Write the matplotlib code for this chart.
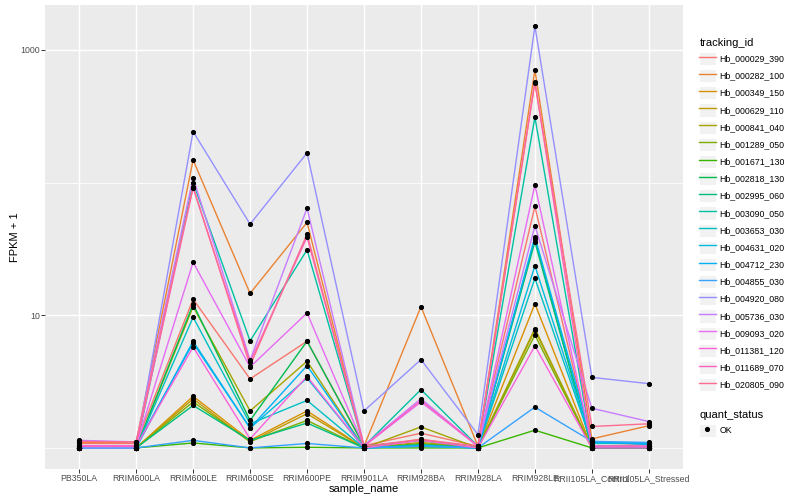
import matplotlib
matplotlib.use("Agg")
import matplotlib.pyplot as plt
import numpy as np
from matplotlib.lines import Line2D
from matplotlib.patches import Rectangle
from matplotlib.legend_handler import HandlerTuple
from matplotlib.ticker import NullFormatter

plt.rcParams['font.family'] = ['Liberation Sans', 'DejaVu Sans']

samples = ['PB350LA', 'RRIM600LA', 'RRIM600LE', 'RRIM600SE', 'RRIM600PE',
           'RRIM901LA', 'RRIM928BA', 'RRIM928LA', 'RRIM928LE',
           'RRII105LA_Control', 'RRII105LA_Stressed']

tracking_ids = ['Hb_000029_390', 'Hb_000282_100', 'Hb_000349_150', 'Hb_000629_110',
                'Hb_000841_040', 'Hb_001289_050', 'Hb_001671_130', 'Hb_002818_130',
                'Hb_002995_060', 'Hb_003090_050', 'Hb_003653_030', 'Hb_004631_020',
                'Hb_004712_230', 'Hb_004855_030', 'Hb_004920_080', 'Hb_005736_030',
                'Hb_009093_020', 'Hb_011381_120', 'Hb_011689_070', 'Hb_020805_090']

# ggplot hue palette, 20 levels
colors = ['#F8766D', '#EA8331', '#D89000', '#C09B00', '#A3A500', '#7CAE00',
          '#39B600', '#00BB4E', '#00BF7D', '#00C1A3', '#00BFC4', '#00BAE0',
          '#00B0F6', '#35A2FF', '#9590FF', '#C77CFF', '#E76BF3', '#FA62DB',
          '#FF62BC', '#FF6C91']

# FPKM + 1, one value per sample
hb_000029_390 = [1.08, 1.08, 13.2, 3.31, 6.37, 1.04, 1.29, 1.03, 66, 1.03, 1.06]
hb_000282_100 = [1.10, 1.10, 148, 14.6, 50, 1.03, 11.6, 1.03, 706, 1.17, 1.47]
hb_000349_150 = [1.0, 1.0, 2.45, 1.14, 1.90, 1.0, 1.16, 1.0, 12.2, 1.0, 1.0]
hb_000629_110 = [1.0, 1.0, 2.34, 1.11, 1.81, 1.0, 1.10, 1.0, 7.71, 1.0, 1.0]
hb_000841_040 = [1.0, 1.0, 11.6, 1.90, 4.50, 1.0, 1.44, 1.0, 7.94, 1.0, 1.0]
hb_001289_050 = [1.0, 1.0, 2.22, 1.12, 1.61, 1.0, 1.08, 1.0, 7.10, 1.0, 1.0]
hb_001671_130 = [1.0, 1.0, 1.09, 1.0, 1.01, 1.0, 1.0, 1.0, 1.36, 1.0, 1.0]
hb_002818_130 = [1.0, 1.0, 12.1, 1.61, 6.37, 1.03, 1.14, 1.0, 37.5, 1.0, 1.0]
hb_002995_060 = [1.0, 1.0, 2.09, 1.14, 1.54, 1.0, 1.06, 1.0, 35.7, 1.0, 1.0]
hb_003090_050 = [1.0, 1.0, 100, 6.40, 31.1, 1.03, 2.75, 1.03, 311, 1.03, 1.03]
hb_003653_030 = [1.0, 1.0, 9.66, 1.52, 2.28, 1.0, 1.04, 1.0, 19.0, 1.08, 1.08]
hb_004631_020 = [1.0, 1.0, 6.37, 1.41, 3.36, 1.0, 1.03, 1.0, 23.6, 1.10, 1.09]
hb_004712_230 = [1.04, 1.03, 6.18, 1.41, 4.17, 1.0, 1.04, 1.0, 39, 1.12, 1.06]
hb_004855_030 = [1.0, 1.0, 1.14, 1.0, 1.08, 1.0, 1.03, 1.0, 2.03, 1.12, 1.10]
hb_004920_080 = [1.0, 1.0, 242, 48.6, 167, 1.90, 4.63, 1.26, 1510, 3.40, 3.05]
hb_005736_030 = [1.14, 1.11, 109, 4.58, 64, 1.04, 2.35, 1.03, 47.2, 1.99, 1.58]
hb_009093_020 = [1.04, 1.04, 25.1, 4.07, 10.4, 1.03, 2.22, 1.03, 96, 1.03, 1.03]
hb_011381_120 = [1.03, 1.03, 5.76, 1.17, 3.46, 1.0, 1.14, 1.0, 5.87, 1.0, 1.0]
hb_011689_070 = [1.03, 1.03, 91, 4.44, 38.8, 1.03, 2.28, 1.03, 576, 1.03, 1.03]
hb_020805_090 = [1.12, 1.11, 93, 4.17, 40.9, 1.03, 1.16, 1.03, 564, 1.45, 1.52]

series = [hb_000029_390, hb_000282_100, hb_000349_150, hb_000629_110, hb_000841_040,
          hb_001289_050, hb_001671_130, hb_002818_130, hb_002995_060, hb_003090_050,
          hb_003653_030, hb_004631_020, hb_004712_230, hb_004855_030, hb_004920_080,
          hb_005736_030, hb_009093_020, hb_011381_120, hb_011689_070, hb_020805_090]

fig = plt.figure(figsize=(8, 5), dpi=100)
ax = fig.add_axes([45 / 800, 1 - 469 / 500, (683 - 45) / 800, (469 - 5) / 500])
ax.set_facecolor('#EBEBEB')

x = np.arange(len(samples))
for vals, col in zip(series, colors):
    ax.plot(x, vals, color=col, lw=1.0, zorder=2)
for vals in series:
    ax.plot(x, vals, 'o', color='black', ms=2.7, linestyle='none', zorder=3)

ax.set_yscale('log')
allv = np.log10(np.concatenate([np.array(s) for s in series]))
lo, hi = allv.min(), allv.max()
pad = 0.05 * (hi - lo)
ax.set_ylim(10 ** (lo - pad), 10 ** (hi + pad))
ax.set_xlim(-0.6, len(samples) - 0.4)

ax.set_xticks(x)
ax.set_xticklabels(samples)
ax.set_yticks([10, 1000])
ax.set_yticklabels(['10', '1000'])
ax.set_yticks([1, 100], minor=True)
ax.yaxis.set_minor_formatter(NullFormatter())

ax.grid(which='major', color='white', lw=1.07)
ax.grid(which='minor', axis='y', color='white', lw=0.55)
ax.set_axisbelow(True)
for sp in ax.spines.values():
    sp.set_visible(False)

ax.tick_params(which='major', length=2.7, width=0.7, color='#333333',
               labelcolor='#4D4D4D', labelsize=6.3, pad=1.0)
ax.tick_params(which='minor', length=0)

ax.set_xlabel('sample_name', fontsize=8, labelpad=0.5)
ax.set_ylabel('FPKM + 1', fontsize=8, labelpad=0.5)

key_bg = dict(fc='#F2F2F2', ec='white', lw=0.7)
handles = [(Rectangle((0, 0), 1, 1, **key_bg), Line2D([], [], color=c, lw=1.0))
           for c in colors]
fig.legend(handles, tracking_ids,
           handler_map={tuple: HandlerTuple(ndivide=1, pad=0)},
           loc='upper left', bbox_to_anchor=(695 / 800, 1 - 33.5 / 500),
           frameon=False, fontsize=6.3, title='tracking_id', title_fontsize=8,
           handlelength=1.85, handleheight=1.95, handletextpad=0.45,
           labelspacing=0.45, borderpad=0, alignment='left')

ok_handle = (Rectangle((0, 0), 1, 1, **key_bg),
             Line2D([], [], marker='o', color='black', ms=2.7, linestyle='none'))
fig.legend([ok_handle], ['OK'],
           handler_map={tuple: HandlerTuple(ndivide=1, pad=0)},
           loc='upper left', bbox_to_anchor=(695 / 800, 1 - 405.5 / 500),
           frameon=False, fontsize=6.3, title='quant_status', title_fontsize=8,
           handlelength=1.85, handleheight=1.95, handletextpad=0.45,
           labelspacing=0.45, borderpad=0, alignment='left')

fig.savefig('out.png', dpi=100)
